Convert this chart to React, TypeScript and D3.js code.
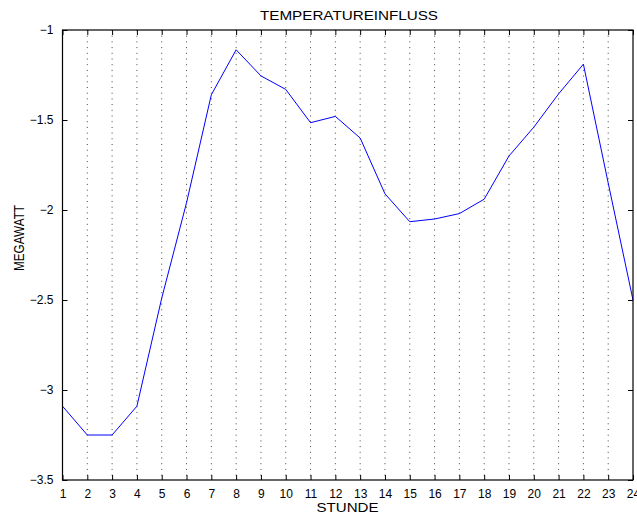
import { useEffect, useRef } from 'react'
import * as d3 from 'd3'

const hours = d3.range(1, 25)
const megawatt = [
  -3.09, -3.25, -3.25, -3.09, -2.49, -1.96, -1.36, -1.11, -1.255, -1.33, -1.515, -1.48,
  -1.6, -1.91, -2.065, -2.05, -2.02, -1.94, -1.7, -1.54, -1.355, -1.19, -1.85, -2.5,
]
const yTicks = [-3.5, -3, -2.5, -2, -1.5, -1]

export default function App() {
  const ref = useRef<SVGSVGElement>(null)

  useEffect(() => {
    if (!ref.current) return
    const W = 637
    const H = 517
    const margin = { top: 30, right: 4, bottom: 37, left: 62.5 }
    const inner = { w: W - margin.left - margin.right, h: H - margin.top - margin.bottom }
    const font = 'Liberation Sans, Arial, Helvetica, sans-serif'

    d3.select(ref.current).selectAll('*').remove()
    const svg = d3.select(ref.current).attr('width', W).attr('height', H).style('font-family', font)
    const g = svg.append('g').attr('transform', `translate(${margin.left},${margin.top})`)

    const x = d3.scaleLinear().domain([1, 24]).range([0, inner.w])
    const y = d3.scaleLinear().domain([-3.5, -1]).range([inner.h, 0])

    // vertical dotted grid
    g.selectAll('.grid')
      .data(hours.slice(1, -1))
      .join('line')
      .attr('x1', (d) => x(d))
      .attr('x2', (d) => x(d))
      .attr('y1', 0)
      .attr('y2', inner.h)
      .attr('stroke', '#444')
      .attr('stroke-width', 1)
      .attr('stroke-dasharray', '1,4.7')

    // line
    const line = d3
      .line<number>()
      .x((_, i) => x(hours[i]))
      .y((d) => y(d))
    g.append('path')
      .datum(megawatt)
      .attr('d', line)
      .attr('fill', 'none')
      .attr('stroke', '#0000ff')
      .attr('stroke-width', 1)

    // frame
    g.append('rect')
      .attr('width', inner.w)
      .attr('height', inner.h)
      .attr('fill', 'none')
      .attr('stroke', '#000')
      .attr('stroke-width', 1.2)

    // x ticks (inward, top and bottom)
    g.append('g')
      .attr('transform', `translate(0,${inner.h})`)
      .call(d3.axisBottom(x).tickValues(hours).tickSize(-5).tickPadding(9).tickFormat(d3.format('d')))
      .call((sel) => sel.select('.domain').remove())
      .call((sel) => sel.selectAll('text').attr('font-size', 12).attr('font-family', font).attr('fill', '#000'))
    g.append('g')
      .call(d3.axisTop(x).tickValues(hours).tickSize(-5).tickFormat(() => ''))
      .call((sel) => sel.select('.domain').remove())

    // y ticks (inward, left and right)
    g.append('g')
      .call(d3.axisLeft(y).tickValues(yTicks).tickSize(-5).tickPadding(9).tickFormat((v) => d3.format('')(v as number).replace('-', '\u2212')))
      .call((sel) => sel.select('.domain').remove())
      .call((sel) => sel.selectAll('text').attr('font-size', 12).attr('font-family', font).attr('fill', '#000'))
    g.append('g')
      .attr('transform', `translate(${inner.w},0)`)
      .call(d3.axisRight(y).tickValues(yTicks).tickSize(-5).tickFormat(() => ''))
      .call((sel) => sel.select('.domain').remove())

    // title & labels
    svg.append('text')
      .attr('x', 349)
      .attr('y', 19.5)
      .attr('text-anchor', 'middle')
      .attr('font-size', 13)
      .attr('textLength', 178)
      .attr('lengthAdjust', 'spacingAndGlyphs')
      .text('TEMPERATUREINFLUSS')
    svg.append('text')
      .attr('x', 347.5)
      .attr('y', 511.5)
      .attr('text-anchor', 'middle')
      .attr('font-size', 13.5)
      .attr('textLength', 62)
      .attr('lengthAdjust', 'spacingAndGlyphs')
      .text('STUNDE')
    svg.append('text')
      .attr('transform', `translate(24,238) rotate(-90)`)
      .attr('text-anchor', 'middle')
      .attr('font-size', 14)
      .attr('textLength', 66)
      .attr('lengthAdjust', 'spacingAndGlyphs')
      .text('MEGAWATT')
  }, [])

  return (
    <svg
      ref={ref}
      style={{ position: 'absolute', left: 0, top: 0, display: 'block', background: '#fff' }}
    />
  )
}
